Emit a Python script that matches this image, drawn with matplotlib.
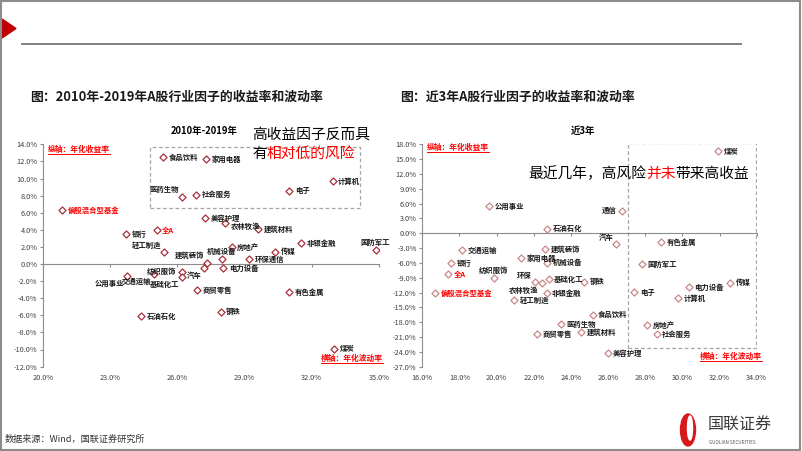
import matplotlib.pyplot as plt
from matplotlib.patches import Rectangle, Polygon, Ellipse
from matplotlib.lines import Line2D
from matplotlib.ticker import FuncFormatter

plt.rcParams['font.family'] = ['Noto Sans CJK SC', 'DejaVu Sans']

# 2010年-2019年：年化波动率(%) / 年化收益率(%)
names_a = ['偏股混合型基金', '全A', '银行', '食品饮料', '家用电器', '医药生物', '社会服务',
           '计算机', '电子', '美容护理', '农林牧渔', '建筑材料', '非银金融', '国防军工',
           '房地产', '传媒', '机械设备', '环保通信', '建筑装饰', '电力设备', '汽车',
           '轻工制造', '纺织服饰', '基础化工', '交通运输', '公用事业', '商贸零售',
           '有色金属', '钢铁', '石油石化', '煤炭']
vol_a = [20.86, 25.07, 23.71, 25.37, 27.28, 26.19, 26.83, 32.93, 31.0, 27.23, 28.13,
         29.61, 31.52, 34.85, 28.42, 30.36, 27.98, 29.21, 27.31, 28.05, 27.2, 25.40,
         26.22, 26.19, 24.97, 23.74, 26.86, 31.0, 27.93, 24.38, 32.99]
ret_a = [6.28, 3.98, 3.51, 12.48, 12.32, 7.87, 8.11, 9.67, 8.57, 5.38, 4.83, 4.13,
         2.42, 1.64, 2.02, 1.44, 0.58, 0.58, 0.15, -0.50, -0.50, 1.37, -0.90, -1.56,
         -1.17, -1.40, -3.04, -3.24, -5.58, -6.08, -9.94]

# 近3年
names_b = ['偏股混合型基金', '全A', '银行', '交通运输', '纺织服饰', '公用事业', '轻工制造',
           '家用电器', '环保', '农林牧渔', '商贸零售', '建筑装饰', '基础化工', '非银金融',
           '机械设备', '石油石化', '医药生物', '建筑材料', '钢铁', '食品饮料', '美容护理',
           '汽车', '通信', '电子', '国防军工', '房地产', '有色金属', '社会服务', '计算机',
           '电力设备', '煤炭', '传媒']
vol_b = [16.68, 17.4, 17.53, 18.12, 19.84, 19.61, 20.95, 21.3, 22.04, 22.42, 22.19,
         22.6, 22.8, 22.69, 22.73, 22.73, 23.45, 24.54, 24.72, 25.17, 25.98, 26.43,
         26.73, 27.41, 27.81, 28.09, 28.85, 28.62, 29.78, 30.34, 31.93, 32.56]
ret_b = [-12.04, -8.32, -6.09, -3.40, -9.0, 5.51, -13.52, -4.96, -9.87, -10.14, -20.4,
         -3.26, -9.33, -12.16, -5.97, 0.91, -18.44, -20.06, -9.81, -16.49, -24.25, -2.24,
         4.56, -11.9, -6.23, -18.64, -1.72, -20.4, -13.17, -10.83, 16.64, -10.0]

xticks_a = [20, 23, 26, 29, 32, 35]
yticks_a = list(range(-12, 15, 2))
xticks_b = list(range(16, 35, 2))
yticks_b = list(range(-27, 19, 3))

red_names = ['偏股混合型基金', '全A']

# 标签位置（默认在右侧）
pos_a = {'医药生物': 'ul', '国防军工': 'u', '机械设备': 'u', '建筑装饰': 'ul', '汽车': 'bl',
         '轻工制造': 'ul', '纺织服饰': 'l', '基础化工': 'bl', '交通运输': 'bl', '公用事业': 'bl',
         '农林牧渔': 'rd'}
pos_b = {'通信': 'l', '汽车': 'ul', '纺织服饰': 'u', '环保': 'ul', '农林牧渔': 'bl'}

offsets = {'r': ((4, 0), 'left', 'center'), 'l': ((-4, 0), 'right', 'center'),
           'rd': ((4, -2.5), 'left', 'center'),
           'ul': ((-2, 2.5), 'right', 'bottom'), 'bl': ((-2, -2.5), 'right', 'top'),
           'u': ((0, 3), 'center', 'bottom')}

W, H = 802, 451
fig = plt.figure(figsize=(W / 100, H / 100), dpi=100)
fig.patch.set_facecolor('white')


def fx(px):
    return px / W


def fy(py):
    return 1 - py / H


pct = FuncFormatter(lambda v, p: '%.1f%%' % v)


def panel(rect, names, vol, ret, pos, xticks, yticks, mcolor, box):
    ax = fig.add_axes(rect)
    ax.scatter(vol, ret, marker='D', s=13, facecolor='white', edgecolor=mcolor,
               linewidth=0.9, zorder=3)
    for n, x, y in zip(names, vol, ret):
        off, ha, va = offsets[pos.get(n, 'r')]
        red = n in red_names
        ax.annotate(n, (x, y), xytext=off, textcoords='offset points', ha=ha, va=va,
                    fontsize=5.3, fontweight='bold',
                    color='#FF0000' if red else '#1a1a1a', zorder=4)
    ax.set_xlim(xticks[0], xticks[-1])
    ax.set_ylim(yticks[0], yticks[-1])
    ax.set_xticks(xticks)
    ax.set_yticks(yticks)
    ax.yaxis.set_major_formatter(pct)
    for s in ['top', 'right']:
        ax.spines[s].set_visible(False)
    ax.spines['left'].set_color('#8c8c8c')
    ax.spines['bottom'].set_color('#8c8c8c')
    ax.spines['bottom'].set_position(('data', 0))
    ax.tick_params(axis='x', labelbottom=False, length=2.5, color='#8c8c8c')
    ax.tick_params(axis='y', labelsize=5.3, length=2.5, color='#8c8c8c',
                   labelcolor='#404040', pad=1.5)
    sec = ax.secondary_xaxis(0)
    sec.spines['bottom'].set_visible(False)
    sec.set_xticks(xticks)
    sec.xaxis.set_major_formatter(pct)
    sec.tick_params(length=0, labelsize=5.3, labelcolor='#404040', pad=5)
    x0, y0, x1, y1 = box
    ax.add_patch(Rectangle((x0, y0), x1 - x0, y1 - y0, fill=False, ls=(0, (3, 2)),
                           lw=0.9, edgecolor='#a6a6a6', zorder=1))
    return ax


ax1 = panel([fx(43), fy(366.6), (379 - 43) / W, (366.6 - 144.3) / H],
            names_a, vol_a, ret_a, pos_a, xticks_a, yticks_a, '#A8323A',
            (24.78, 6.55, 34.15, 13.68))
ax2 = panel([fx(422.3), fy(366.7), (756.7 - 422.3) / W, (366.7 - 144.3) / H],
            names_b, vol_b, ret_b, pos_b, xticks_b, yticks_b, '#C98A88',
            (27.09, -23.17, 33.94, 18.3))

# 面板标题
fig.text(fx(204), fy(131), '2010年-2019年', ha='center', va='center', fontsize=6.8,
         fontweight='bold')
fig.text(fx(583), fy(131), '近3年', ha='center', va='center', fontsize=6.8,
         fontweight='bold')

# 坐标轴说明
def axis_note(px0, py, txt):
    fig.text(fx(px0), fy(py), txt, ha='left', va='center', fontsize=5.6,
             fontweight='bold', color='#FF0000', style='italic')
    fig.add_artist(Line2D([fx(px0), fx(px0 + 62)], [fy(py + 5), fy(py + 5)],
                          color='#FF0000', lw=0.7))


axis_note(48, 149, '纵轴：年化收益率')
axis_note(321, 358, '横轴：年化波动率')
axis_note(427, 147, '纵轴：年化收益率')
axis_note(700, 356, '横轴：年化波动率')

# 注释文字（逐段拼接，汉字等宽）
fs = 10.6
cw = fs * 100 / 72


def seg_text(px0, py, parts):
    x = px0
    for txt, col in parts:
        fig.text(fx(x), fy(py), txt, ha='left', va='center', fontsize=fs, color=col)
        x += cw * len(txt)


seg_text(252, 135, [('高收益因子反而具', 'black')])
seg_text(252, 154, [('有', 'black'), ('相对低的风险', '#FF0000')])
seg_text(528, 174, [('最近几年，高风险', 'black'), ('并未', '#FF0000'),
                    ('带来高收益', 'black')])

# 页眉
fig.add_artist(Polygon([[fx(2), fy(19)], [fx(2), fy(38)], [fx(16), fy(28.5)]],
                       closed=True, color='#C00000', transform=fig.transFigure))
fig.add_artist(Line2D([fx(22), fx(741)], [fy(43.5), fy(43.5)], color='#7f7f7f', lw=1.4))
fig.text(fx(30), fy(97), '图：2010年-2019年A股行业因子的收益率和波动率', ha='left',
         va='center', fontsize=9.3, fontweight='bold', color='#1a1a1a')
fig.text(fx(400), fy(97), '图：近3年A股行业因子的收益率和波动率', ha='left',
         va='center', fontsize=9.3, fontweight='bold', color='#1a1a1a')

# 页脚
fig.text(fx(5), fy(439), '数据来源：Wind，国联证券研究所', ha='left', va='center',
         fontsize=6.6, color='#333333')
fig.add_artist(Ellipse((fx(688), fy(430)), 15 / W, 32 / H, color='#D7191C',
                       transform=fig.transFigure))
fig.add_artist(Ellipse((fx(690), fy(428)), 5 / W, 24 / H, color='white',
                       transform=fig.transFigure))
fig.text(fx(708), fy(425), '国联证券', ha='left', va='center', fontsize=11.5,
         color='#3a3a3a')
fig.text(fx(709), fy(442), 'GUOLIAN SECURITIES', ha='left', va='center', fontsize=3.3,
         color='#555555')

# 外框
fig.add_artist(Rectangle((0.001, 0.002), 0.997, 0.996, fill=False, edgecolor='#8c8c8c',
                         lw=1.5, transform=fig.transFigure))

fig.savefig('out.png', dpi=100)
